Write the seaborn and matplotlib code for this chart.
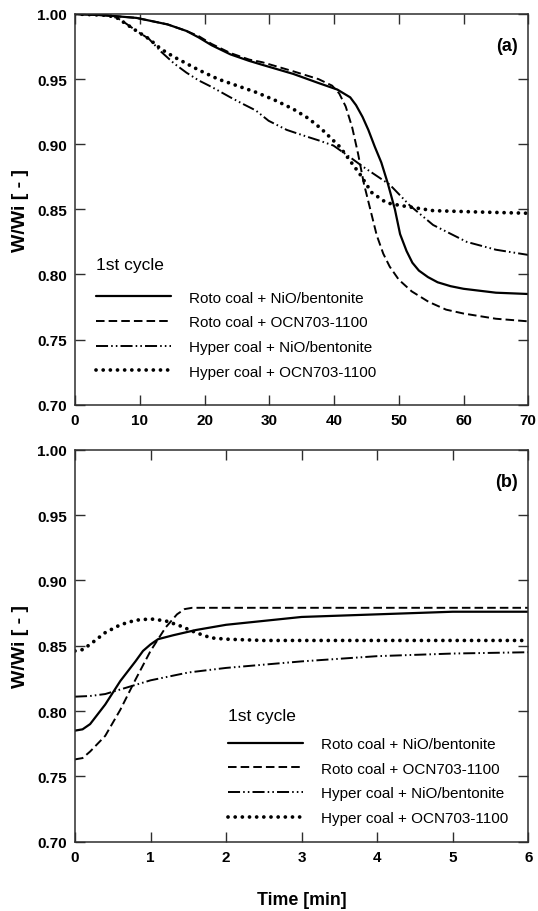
import matplotlib
matplotlib.use("Agg")
import matplotlib.pyplot as plt
from matplotlib.lines import Line2D
import seaborn as sns
import pandas as pd

sns.set_theme(style="white")
plt.rcParams['font.family'] = ['Liberation Sans', 'DejaVu Sans']
plt.rcParams['text.color'] = 'black'
plt.rcParams['axes.labelcolor'] = 'black'
plt.rcParams['xtick.color'] = 'black'
plt.rcParams['ytick.color'] = 'black'

# ---------------- data: panel (a) ----------------
a_roto_nio_t = [0, 4.6, 9.5, 14.3, 17.2, 19.1, 21.1, 24.0, 26.9, 28.9, 33.7, 37.6, 40.5, 42.5,
                43.4, 44.4, 45.3, 46.3, 47.3, 48.3, 49.4, 50.2, 51.2, 52.1, 53.1, 54.5, 56, 58,
                60, 65, 70]
a_roto_nio_w = [1.000, 0.999, 0.997, 0.992, 0.987, 0.982, 0.976, 0.969, 0.964, 0.961, 0.954,
                0.947, 0.942, 0.936, 0.930, 0.921, 0.911, 0.898, 0.886, 0.870, 0.850, 0.831,
                0.818, 0.809, 0.803, 0.798, 0.794, 0.791, 0.789, 0.786, 0.785]

a_roto_ocn_t = [0, 4.6, 9.5, 14.3, 17.2, 19.1, 21.1, 24.0, 26.9, 28.9, 33.7, 37.6, 39.7, 40.8,
                41.8, 42.8, 43.7, 44.6, 45.6, 46.6, 47.6, 48.6, 50, 52, 54.6, 57.3, 60, 65, 70]
a_roto_ocn_w = [1.000, 0.999, 0.997, 0.992, 0.987, 0.983, 0.977, 0.970, 0.965, 0.963, 0.956,
                0.950, 0.945, 0.939, 0.929, 0.913, 0.893, 0.870, 0.850, 0.830, 0.816, 0.806,
                0.796, 0.787, 0.779, 0.773, 0.770, 0.766, 0.764]

a_hyper_nio_t = [0, 5, 6.5, 7.5, 9.5, 11.4, 13.3, 15.3, 17.2, 19.1, 21.1, 24.0, 25.9, 27.9,
                 29.9, 32.7, 35.7, 37.6, 39.9, 42.2, 44.4, 46.5, 48.6, 51.7, 55.3, 60.5, 65, 70]
a_hyper_nio_w = [1.000, 0.999, 0.997, 0.994, 0.987, 0.981, 0.971, 0.962, 0.955, 0.949, 0.944,
                 0.936, 0.931, 0.926, 0.918, 0.911, 0.906, 0.903, 0.899, 0.891, 0.883, 0.876,
                 0.869, 0.853, 0.838, 0.825, 0.819, 0.815]

a_hyper_ocn_t = [0, 5, 6.5, 9.5, 11.4, 13.3, 15.3, 17.2, 19.1, 22.1, 25.0, 27.9, 30.8, 33.7,
                 36, 38, 40.9, 44.0, 45.8, 48.1, 50.2, 55.3, 62, 70]
a_hyper_ocn_w = [1.000, 0.999, 0.997, 0.987, 0.981, 0.973, 0.967, 0.962, 0.957, 0.950, 0.945,
                 0.940, 0.934, 0.927, 0.920, 0.912, 0.898, 0.877, 0.863, 0.855, 0.853, 0.849,
                 0.848, 0.847]

# ---------------- data: panel (b) ----------------
b_roto_nio_t = [0, 0.1, 0.2, 0.4, 0.6, 0.8, 0.9, 1.0, 1.1, 1.3, 1.6, 2.0, 2.5, 3, 4, 5, 6]
b_roto_nio_w = [0.785, 0.786, 0.790, 0.805, 0.823, 0.838, 0.846, 0.851, 0.855, 0.858, 0.862,
                0.866, 0.869, 0.872, 0.874, 0.876, 0.876]

b_roto_ocn_t = [0, 0.1, 0.2, 0.4, 0.6, 0.8, 1.0, 1.2, 1.35, 1.45, 1.55, 2, 3, 4, 5, 6]
b_roto_ocn_w = [0.763, 0.764, 0.769, 0.781, 0.801, 0.824, 0.846, 0.864, 0.874, 0.878, 0.879,
                0.879, 0.879, 0.879, 0.879, 0.879]

b_hyper_nio_t = [0, 0.2, 0.4, 0.6, 0.8, 1.0, 1.5, 2.0, 3, 4, 5, 6]
b_hyper_nio_w = [0.811, 0.8115, 0.813, 0.8165, 0.820, 0.8235, 0.8295, 0.833, 0.838, 0.842,
                 0.844, 0.845]

b_hyper_ocn_t = [0, 0.1, 0.2, 0.4, 0.6, 0.8, 1.0, 1.2, 1.4, 1.6, 1.8, 2.0, 2.5, 3, 4, 5, 6]
b_hyper_ocn_w = [0.846, 0.847, 0.851, 0.860, 0.866, 0.8695, 0.8705, 0.869, 0.865, 0.860,
                 0.856, 0.855, 0.854, 0.854, 0.854, 0.854, 0.854]

labels = ["Roto coal + NiO/bentonite", "Roto coal + OCN703-1100",
          "Hyper coal + NiO/bentonite", "Hyper coal + OCN703-1100"]
legend_title = "1st cycle"
y_ticks = [0.70, 0.75, 0.80, 0.85, 0.90, 0.95, 1.00]
a_x_ticks = [0, 10, 20, 30, 40, 50, 60, 70]
b_x_ticks = [0, 1, 2, 3, 4, 5, 6]

# ---------------- styles ----------------
styles = [
    dict(lw=1.6, ls='-'),
    dict(lw=1.4, ls=(0, (4.4, 2.1))),
    dict(lw=1.4, ls=(0, (6.2, 1.6, 0.8, 1.6, 0.8, 1.6))),
    dict(lw=2.7, ls=(0, (0.01, 1.9))),
]

W, H = 538, 912
fig = plt.figure(figsize=(W / 100, H / 100), dpi=100)
fig.patch.set_facecolor('white')
ax1 = fig.add_axes([75 / W, 1 - 405.7 / H, 453.3 / W, 390.7 / H])
ax2 = fig.add_axes([75 / W, 1 - 842.7 / H, 453.3 / W, 392.0 / H])

spine_col = '#2e2e2e'
tick_font = dict(family=['Liberation Sans', 'DejaVu Sans'], weight='bold', size=11,
                 color='black')


def draw(ax, series, xlim, xticks, tag, title_xy, leg_xy):
    for (t, w), st in zip(series, styles):
        df = pd.DataFrame({"t": t, "w": w})
        sns.lineplot(data=df, x="t", y="w", ax=ax, color='black', sort=False,
                     estimator=None)
        line = ax.lines[-1]
        line.set_linewidth(st['lw'])
        line.set_linestyle(st['ls'])
        line.set_dash_capstyle('round' if st['lw'] > 2 else 'butt')
    ax.set_xlim(*xlim)
    ax.set_ylim(0.70, 1.00)
    ax.set_xticks(xticks)
    ax.set_yticks(y_ticks)
    ax.set_xticklabels([str(v) for v in xticks], fontdict=tick_font)
    ax.set_yticklabels([f"{v:.2f}" for v in y_ticks], fontdict=tick_font)
    ax.tick_params(direction='in', length=7, width=1.0, color=spine_col,
                   top=True, right=True, bottom=True, left=True, pad=6)
    for s in ax.spines.values():
        s.set_color(spine_col)
        s.set_linewidth(1.1)
        s.set_visible(True)
    ax.grid(False)
    ax.set_xlabel("")
    ax.set_ylabel("W/Wi [ - ]", fontsize=14, fontweight='bold', va='center',
                  color='black')
    ax.yaxis.set_label_coords(-0.12, 0.5)
    ax.text(0.978, 0.92, tag, transform=ax.transAxes, ha='right', va='center',
            fontsize=13, fontweight='bold', color='black')
    ax.text(title_xy[0], title_xy[1], legend_title, transform=ax.transAxes,
            ha='left', va='center', fontsize=12.5, color='black')
    handles = []
    for st in styles:
        h = Line2D([], [], color='black', lw=st['lw'], ls=st['ls'])
        h.set_dash_capstyle('round' if st['lw'] > 2 else 'butt')
        handles.append(h)
    leg = ax.legend(handles, labels, loc='center left', bbox_to_anchor=leg_xy,
                    frameon=False, fontsize=11, handlelength=4.9, handletextpad=1.2,
                    labelspacing=0.7, borderpad=0, borderaxespad=0)
    for txt in leg.get_texts():
        txt.set_color('black')


draw(ax1, [(a_roto_nio_t, a_roto_nio_w), (a_roto_ocn_t, a_roto_ocn_w),
           (a_hyper_nio_t, a_hyper_nio_w), (a_hyper_ocn_t, a_hyper_ocn_w)],
     (0, 70), a_x_ticks, "(a)", (0.046, 0.36), (0.046, 0.179))
draw(ax2, [(b_roto_nio_t, b_roto_nio_w), (b_roto_ocn_t, b_roto_ocn_w),
           (b_hyper_nio_t, b_hyper_nio_w), (b_hyper_ocn_t, b_hyper_ocn_w)],
     (0, 6), b_x_ticks, "(b)", (0.338, 0.323), (0.338, 0.155))

ax2.set_xlabel("Time [min]", fontsize=12.8, fontweight='bold', va='center',
               color='black')
ax2.xaxis.set_label_coords(0.5, -0.147)

fig.savefig("out.png", dpi=100, facecolor='white')
